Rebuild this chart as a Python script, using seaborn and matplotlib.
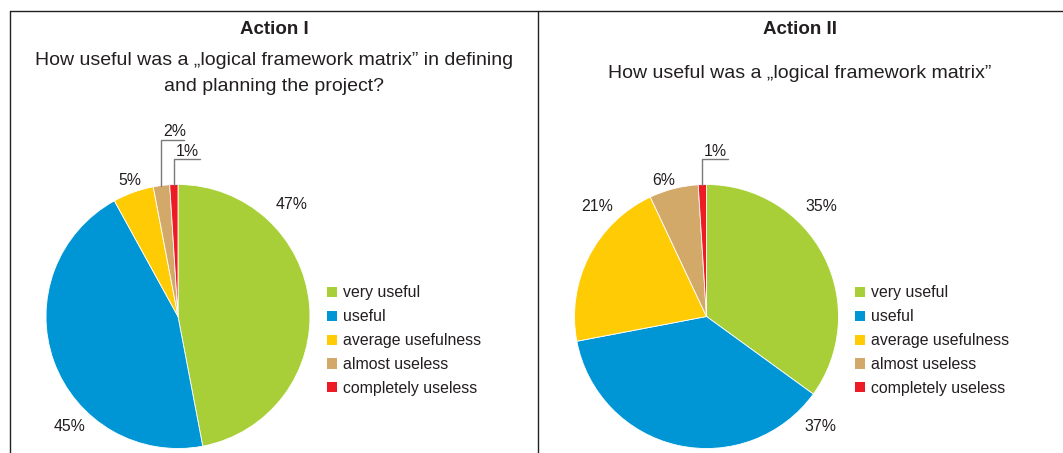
import matplotlib
matplotlib.use("Agg")
import numpy as np
import matplotlib.pyplot as plt
import seaborn as sns
from matplotlib.patches import Patch
from matplotlib.lines import Line2D

# ---- data ----
categories = ["very useful", "useful", "average usefulness", "almost useless", "completely useless"]
action1_values = [47, 45, 5, 2, 1]
action2_values = [35, 37, 21, 6, 1]
panel_titles = ["Action I", "Action II"]
panel_questions = [
    "How useful was a \u201elogical framework matrix\u201d in defining\nand planning the project?",
    "How useful was a \u201elogical framework matrix\u201d",
]

# ---- style ----
sns.set_theme(style="white")
plt.rcParams["font.family"] = ["Liberation Sans", "DejaVu Sans"]
palette = sns.color_palette(["#A8CF38", "#0096D6", "#FFCB05", "#D3A96A", "#ED1C24"])
TEXT = "#231F20"
LEADER = "#7A7A7A"
LABEL_SIZE = 11.4

W, H = 1063, 453
fig = plt.figure(figsize=(W / 100, H / 100), dpi=100)
fig.patch.set_facecolor("white")


def fbox(x0, y0, x1, y1):
    return [x0 / W, 1 - y1 / H, (x1 - x0) / W, (y1 - y0) / H]


# label offsets (in pie radii) per wedge; "leader" entries get an elbow line
label_layout = [
    {0: (0.864, 0.845), 1: (-0.818, -0.837), 2: (-0.364, 1.034),
     3: ("leader", 1.337, 0.174), 4: ("leader", 1.191, 0.197)},
    {0: (0.867, 0.837), 1: (0.865, -0.837), 2: (-0.829, 0.837),
     3: (-0.322, 1.034), 4: ("leader", 1.191, 0.197)},
]

panels = [
    dict(values=action1_values, center=(178, 316.5), legend_xy=(327, 285.5), title_x=274),
    dict(values=action2_values, center=(706.5, 316.5), legend_xy=(855, 285.5), title_x=800),
]
R = 132

for i, p in enumerate(panels):
    cx, cy = p["center"]
    ax = fig.add_axes(fbox(cx - R, cy - R, cx + R, cy + R))
    wedges, _ = ax.pie(p["values"], colors=palette, startangle=90, counterclock=False,
                       radius=1, wedgeprops=dict(edgecolor="white", linewidth=0.6))
    ax.set_xlim(-1, 1)
    ax.set_ylim(-1, 1)
    ax.set_aspect("equal")
    ax.axis("off")

    for k, (w, v) in enumerate(zip(wedges, p["values"])):
        lay = label_layout[i][k]
        txt = f"{v}%"
        if lay[0] == "leader":
            _, elbow_y, run = lay
            mid = np.deg2rad((w.theta1 + w.theta2) / 2)
            x0, y0 = np.cos(mid), np.sin(mid)
            ax.add_line(Line2D([x0, x0, x0 + run], [y0, elbow_y, elbow_y], color=LEADER,
                               lw=1.0, clip_on=False, solid_joinstyle="miter"))
            ax.text(x0 + 0.1, elbow_y + 0.005, txt, ha="center", va="bottom",
                    fontsize=LABEL_SIZE, color=TEXT, clip_on=False)
        else:
            ax.text(lay[0], lay[1], txt, ha="center", va="center", fontsize=LABEL_SIZE,
                    color=TEXT, clip_on=False)

    handles = [Patch(facecolor=c, edgecolor="none") for c in palette]
    lx, ly = p["legend_xy"]
    ax.legend(handles, categories, loc="upper left",
              bbox_to_anchor=(lx / W, 1 - ly / H), bbox_transform=fig.transFigure,
              frameon=False, fontsize=LABEL_SIZE, handlelength=0.62, handleheight=0.6,
              handletextpad=0.4, labelspacing=0.56, borderpad=0, borderaxespad=0,
              labelcolor=TEXT)

    fig.text(p["title_x"] / W, 1 - 29 / H, panel_titles[i], ha="center",
             va="center", fontsize=13.5, fontweight="bold", color=TEXT)
    fig.text(p["title_x"] / W, 1 - 73.5 / H, panel_questions[i], ha="center",
             va="center", fontsize=14, color=TEXT, linespacing=1.62)

# panel frame
frame_kw = dict(color=TEXT, lw=1.0, transform=fig.transFigure)
fig.add_artist(Line2D([10 / W, 1], [1 - 11 / H, 1 - 11 / H], **frame_kw))
fig.add_artist(Line2D([10 / W, 10 / W], [0, 1 - 11 / H], **frame_kw))
fig.add_artist(Line2D([538 / W, 538 / W], [0, 1 - 11 / H], **frame_kw))

fig.savefig("out.png", dpi=100)
